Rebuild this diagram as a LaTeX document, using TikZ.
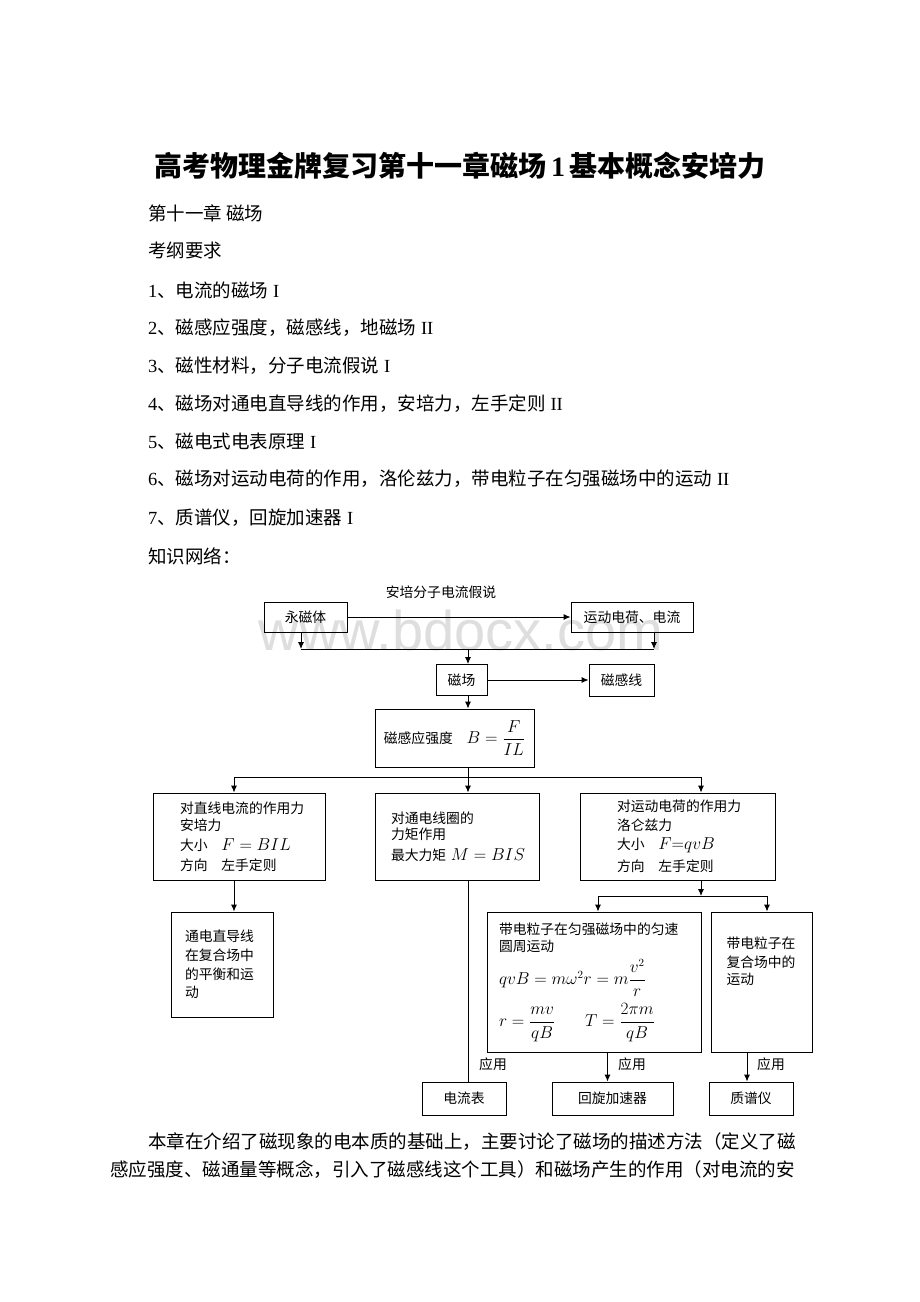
\documentclass[tikz,border=0pt]{standalone}
\usepackage{amsmath}
\usepackage{fontspec}
\setmainfont{Liberation Serif}
\newfontfamily\cjk{Noto Sans CJK SC}
\newfontfamily\wmfont{Liberation Sans}
\usetikzlibrary{arrows.meta}
\newcommand\dgfont{\cjk\fontsize{13.8}{17}\selectfont}
\newcommand\bodyfont{\fontsize{18.5}{22}\selectfont}
\newcommand\mth[1]{\mbox{\fontsize{16}{19}\selectfont$#1$}}
\tikzset{arr/.style = {-{Latex[length=7pt,width=6pt]}, line width=0.9pt}}
\tikzset{box/.style = {draw, line width=0.9pt, inner sep=0pt, font=\dgfont}}
\tikzset{txtline/.style = {anchor=west, inner sep=0pt, font=\bodyfont}}

\begin{document}
\begin{tikzpicture}[x=1pt,y=-1pt]
        \useasboundingbox[fill=white] (0,0) rectangle (920,1302);
        \node[text=black!13, font=\wmfont\fontsize{56}{60}\selectfont] (wm) at (461,630) {www.bdocx.com};

        \node[inner sep=0pt, font=\fontsize{28}{32}\selectfont\bfseries] (title) at (460,166) {{\cjk 高考物理金牌复习第十一章磁场}\,1\,{\cjk 基本概念安培力}};
        \node[txtline] (l0) at (148,213) {\cjk 第十一章 磁场};
        \node[txtline] (req) at (148,250) {\cjk 考纲要求};
        \node[txtline] (l1) at (148,290) {1{\cjk 、电流的磁场} I};
        \node[txtline] (l2) at (148,328) {2{\cjk 、磁感应强度，磁感线，地磁场} II};
        \node[txtline] (l3) at (148,366) {3{\cjk 、磁性材料，分子电流假说} I};
        \node[txtline] (l4) at (148,404) {4{\cjk 、磁场对通电直导线的作用，安培力，左手定则} II};
        \node[txtline] (l5) at (148,441) {5{\cjk 、磁电式电表原理} I};
        \node[txtline] (l6) at (148,479) {6{\cjk 、磁场对运动电荷的作用，洛伦兹力，带电粒子在匀强磁场中的运动} II};
        \node[txtline] (l7) at (148,518) {7{\cjk 、质谱仪，回旋加速器} I};
        \node[txtline] (net) at (148,556) {\cjk 知识网络：};

        \node[font=\dgfont] (hyp) at (441,592) {安培分子电流假说};
        \node[box, minimum width=83pt, minimum height=30pt] (pm) at (305.5,617) {永磁体};
        \node[box, minimum width=122pt, minimum height=30pt] (mc) at (632,617) {运动电荷、电流};
        \node[box, minimum width=51pt, minimum height=31pt] (fld) at (461.5,680) {磁场};
        \node[box, minimum width=65pt, minimum height=32pt] (lines) at (621.5,680) {磁感线};
        \node[box, minimum width=159pt, minimum height=58pt] (bdef) at (454.5,738) {磁感应强度\quad\mth{B=\dfrac{F}{IL}}};

        \node[box, align=left, text width=118pt, inner xsep=27pt, minimum height=87pt] (f1) at (239,836.5)
            {对直线电流的作用力\\ 安培力\\[3pt] 大小\quad\mth{F = BIL}\\[3pt] 方向\quad 左手定则};
        \node[box, align=left, text width=132pt, inner xsep=16pt, minimum height=87pt] (f2) at (457,836.5)
            {对通电线圈的\\[-1pt] 力矩作用\\[4pt] 最大力矩~\mth{M = BIS}};
        \node[box, align=left, text width=121pt, inner xsep=37pt, minimum height=87pt] (f3) at (677.5,836.5)
            {对运动电荷的作用力\\[2pt] 洛仑兹力\\[2pt] 大小\quad\mth{F{=}qvB}\\[5pt] 方向\quad 左手定则};
        \node[box, align=left, text width=74pt, inner xsep=14pt, minimum height=105pt] (wire) at (222,964.5)
            {通电直导线\\[1.7pt] 在复合场中\\[1.7pt] 的平衡和运\\[1.7pt] 动};
        \node[box, align=left, text width=190pt, inner xsep=12pt, minimum height=140pt] (uni) at (594,982)
            {带电粒子在匀强磁场中的匀速\\ 圆周运动\\[6pt] \mth{qvB = m\omega^2 r = m\dfrac{v^2}{r}}\\[6pt] \mth{r = \dfrac{mv}{qB}}\hspace{30pt}\mth{T = \dfrac{2\pi m}{qB}}};
        \node[box, align=left, text width=70pt, inner xsep=15.5pt, minimum height=140pt] (comp) at (761.5,982)
            {带电粒子在\\[2pt] 复合场中的\\[0pt] 运动\\[26pt]\mbox{}};

        \node[box, minimum width=84pt, minimum height=33pt] (amm) at (464,1098.5) {电流表};
        \node[box, minimum width=121pt, minimum height=33pt] (cyc) at (612.5,1098.5) {回旋加速器};
        \node[box, minimum width=84pt, minimum height=33pt] (spec) at (751,1098.5) {质谱仪};
        \node[font=\dgfont] (app1) at (493,1064) {应用};
        \node[font=\dgfont] (app2) at (632,1064) {应用};
        \node[font=\dgfont] (app3) at (771,1064) {应用};

        \coordinate (j1) at (468,649);
        \coordinate (b1l) at (301,649);
        \coordinate (b1r) at (654,649);
        \coordinate (j2) at (468,777);
        \coordinate (b2l) at (234,777);
        \coordinate (b2r) at (701,777);
        \coordinate (j3) at (701,896);
        \coordinate (b3l) at (598,896);
        \coordinate (b3r) at (767,896);

        \draw[arr] (pm) -- (mc);
        \draw[line width=0.9pt] (b1l) -- (b1r);
        \draw[arr] (pm.south -| b1l) -- (b1l);
        \draw[arr] (mc.south -| b1r) -- (b1r);
        \draw[arr] (j1) -- (j1 |- fld.north);
        \draw[arr] (fld) -- (lines);
        \draw[arr] (fld.south -| j1) -- (bdef.north -| j1);
        \draw[line width=0.9pt] (bdef.south -| j2) -- (j2);
        \draw[line width=0.9pt] (b2l) -- (b2r);
        \draw[arr] (b2l) -- (b2l |- f1.north);
        \draw[arr] (j2) -- (j2 |- f2.north);
        \draw[arr] (b2r) -- (b2r |- f3.north);
        \draw[arr] (f1.south -| b2l) -- (wire.north -| b2l);
        \draw[line width=0.9pt] (f2.south -| j2) -- (amm.north -| j2);
        \draw[arr] (f3.south -| j3) -- (j3);
        \draw[line width=0.9pt] (b3l) -- (b3r);
        \draw[arr] (b3l) -- (b3l |- uni.north);
        \draw[arr] (b3r) -- (b3r |- comp.north);
        \draw[arr] ([xshift=-5pt]cyc.north |- uni.south) -- ([xshift=-5pt]cyc.north);
        \draw[arr] ([xshift=-4pt]spec.north |- comp.south) -- ([xshift=-4pt]spec.north);

        \node[txtline] (p1) at (148,1142) {\cjk 本章在介绍了磁现象的电本质的基础上，主要讨论了磁场的描述方法（定义了磁};
        \node[txtline] (p2) at (110,1170) {\cjk 感应强度、磁通量等概念，引入了磁感线这个工具）和磁场产生的作用（对电流的安};
    \end{tikzpicture}
\end{document}
